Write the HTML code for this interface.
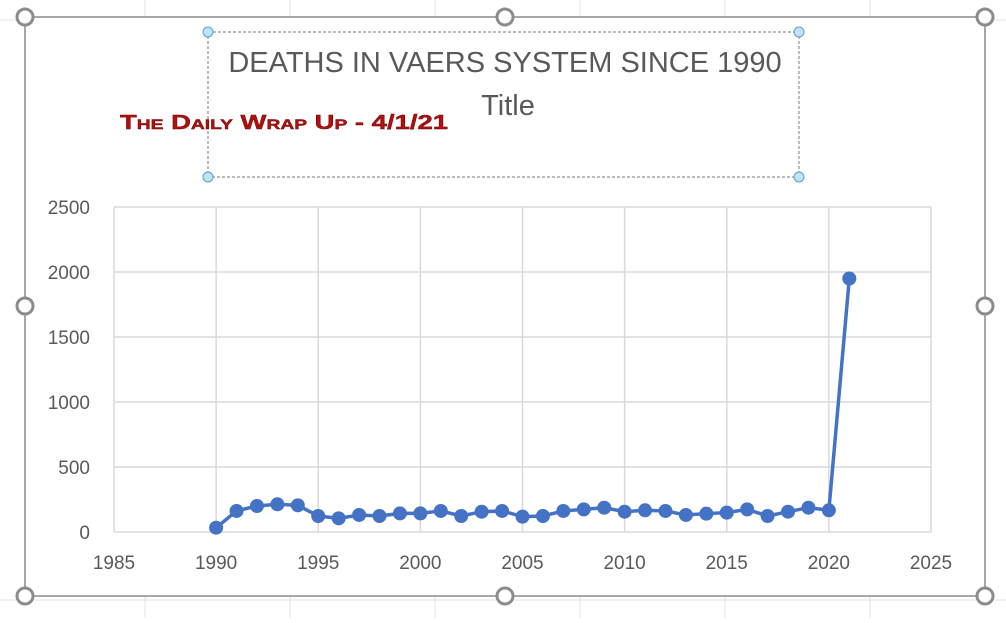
<!DOCTYPE html>
<html><head><meta charset="utf-8"><style>
body{margin:0;width:1006px;height:618px;overflow:hidden;background:#fff;font-family:"Liberation Sans",sans-serif}
</style></head><body>
<svg width="1006" height="618" xmlns="http://www.w3.org/2000/svg">
<g id="sheet" stroke="#e3e3e3" stroke-width="1">
<line x1="0" y1="20" x2="1006" y2="20"/><line x1="0" y1="600" x2="1006" y2="600"/>
<line x1="145" y1="0" x2="145" y2="618"/><line x1="290" y1="0" x2="290" y2="618"/><line x1="435" y1="0" x2="435" y2="618"/><line x1="580" y1="0" x2="580" y2="618"/><line x1="725" y1="0" x2="725" y2="618"/><line x1="870" y1="0" x2="870" y2="618"/>
</g>
<rect x="25" y="17" width="960" height="579" fill="#fff" stroke="#8a8a8a" stroke-width="1.5"/>
<g fill="#fff" stroke="#8c8c8c" stroke-width="3">
<circle cx="25" cy="17" r="8"/><circle cx="505" cy="17" r="8"/><circle cx="985" cy="17" r="8"/>
<circle cx="25" cy="306" r="8"/><circle cx="985" cy="306" r="8"/>
<circle cx="25" cy="596" r="8"/><circle cx="505" cy="596" r="8"/><circle cx="985" cy="596" r="8"/>
</g>
<rect x="208" y="32" width="591" height="145" fill="none" stroke="#777" stroke-dasharray="3,2"/>
<g fill="#bfe3f7" stroke="#5aa0c8">
<circle cx="208" cy="32" r="5"/><circle cx="799" cy="32" r="5"/><circle cx="208" cy="177" r="5"/><circle cx="799" cy="177" r="5"/>
</g>
<text x="505" y="72" text-anchor="middle" font-size="29" fill="#595959">DEATHS IN VAERS SYSTEM SINCE 1990</text>
<text x="508" y="115" text-anchor="middle" font-size="29" fill="#595959">Title</text>
<text x="120" y="129" font-family="Liberation Sans,sans-serif" font-weight="bold" font-size="20" fill="#b01010" stroke="#600" stroke-width="0.4" font-variant="small-caps" textLength="328" lengthAdjust="spacingAndGlyphs">The Daily Wrap Up - 4/1/21</text>
<g id="grid"></g>
<g id="axes"></g>
<g id="series"></g>
</svg>
<script>
const years=[1990,1991,1992,1993,1994,1995,1996,1997,1998,1999,2000,2001,2002,2003,2004,2005,2006,2007,2008,2009,2010,2011,2012,2013,2014,2015,2016,2017,2018,2019,2020,2021];
const deaths=[33,162,200,213,205,123,105,131,123,143,143,162,123,156,162,118,123,162,174,187,156,167,162,131,141,149,174,123,156,187,167,1950];
const xTicks=[1985,1990,1995,2000,2005,2010,2015,2020,2025];
const yTicks=[0,500,1000,1500,2000,2500];
const NS="http://www.w3.org/2000/svg";
const X=v=>114+(v-1985)*(931-114)/40;
const Y=v=>532-v*(532-207)/2500;
const grid=document.getElementById('grid'),axes=document.getElementById('axes'),ser=document.getElementById('series');
function mk(p,tag,a){const e=document.createElementNS(NS,tag);for(const k in a)e.setAttribute(k,a[k]);p.appendChild(e);return e;}
yTicks.forEach(t=>{
 const l=mk(grid,'line',{x1:114,x2:931,y1:Y(t),y2:Y(t),stroke:'#d9d9d9','stroke-width':1.5});
 
 
 const tx=mk(axes,'text',{x:90,y:Y(t)+7,'text-anchor':'end','font-size':19,fill:'#595959'});tx.textContent=t;
 
 
});
xTicks.forEach(t=>{
 const l=mk(grid,'line',{x1:X(t),x2:X(t),y1:207,y2:532,stroke:'#d9d9d9','stroke-width':1.5});
 
 
 const tx=mk(axes,'text',{x:X(t),y:569,'text-anchor':'middle','font-size':19,fill:'#595959'});tx.textContent=t;
 
 
});
const pl=mk(ser,'polyline',{points:years.map((y,i)=>X(y)+','+Y(deaths[i])).join(' '),fill:'none',stroke:'#4472c4','stroke-width':3.5});


years.forEach((y,i)=>{
 const c=mk(ser,'circle',{cx:X(y),cy:Y(deaths[i]),r:7,fill:'#4472c4'});
 
 
});
</script>
</body></html>
